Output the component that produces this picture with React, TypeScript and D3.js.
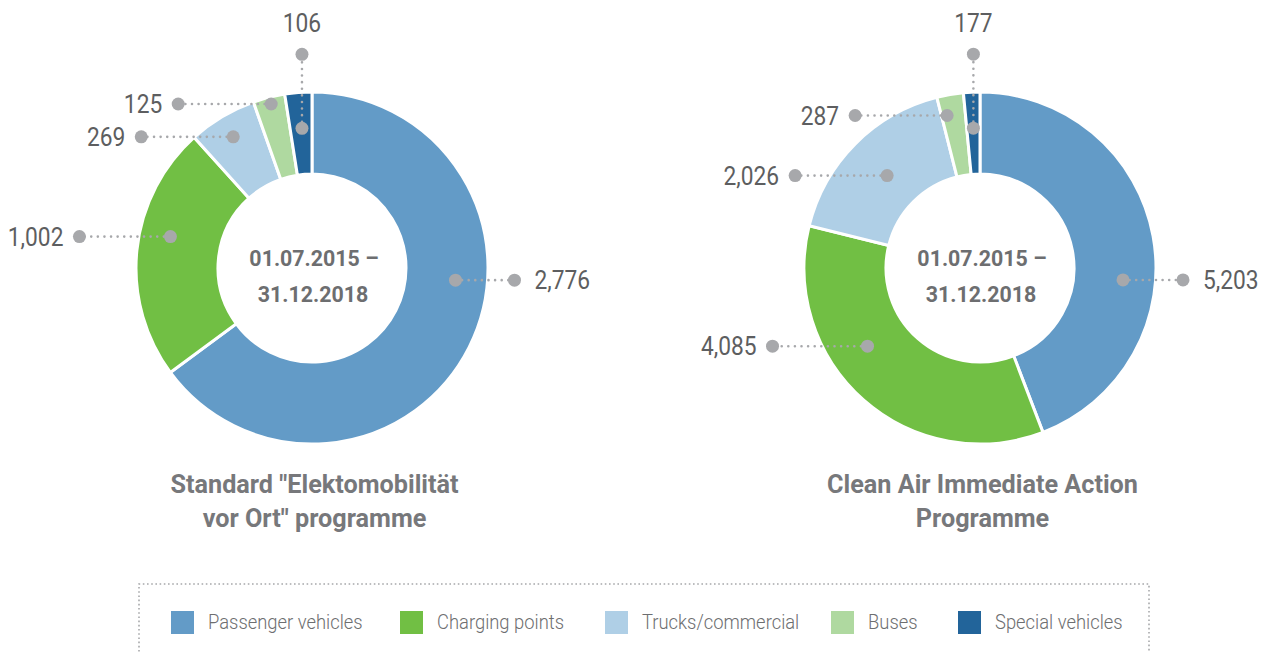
import React from 'react';
import * as d3 from 'd3';

// ---------- data ----------
const categories = ['Passenger vehicles', 'Charging points', 'Trucks/commercial', 'Buses', 'Special vehicles'];
const standardValues = [2776, 1002, 269, 125, 106];
const cleanAirValues = [5203, 4085, 2026, 287, 177];
const standardTitle = ['Standard "Elektomobilität', 'vor Ort" programme'];
const cleanAirTitle = ['Clean Air Immediate Action', 'Programme'];
const periodLines = ['01.07.2015 –', '31.12.2018'];

// ---------- style / layout ----------
const colors = ['#639bc7', '#71bf44', '#afcfe6', '#afd9a0', '#22649a'];
const FONT = 'Roboto, "Liberation Sans", sans-serif';
const SX = 0.91; // horizontal condensing
const CY = 268;
const R_OUT = 176;
const R_IN = 94;
const DOT = '#a7a8ab';

type LabelLayout = { frac: number; r: number; dir: 'left' | 'right' | 'up'; len: number };
const standardLabels: LabelLayout[] = [
  { frac: 0.406, r: 144, dir: 'right', len: 59 },
  { frac: 0.58, r: 145, dir: 'left', len: 91 },
  { frac: 0.49, r: 153, dir: 'left', len: 92 },
  { frac: 0.52, r: 169, dir: 'left', len: 93 },
  { frac: 0.54, r: 140, dir: 'up', len: 74 },
];
const cleanAirLabels: LabelLayout[] = [
  { frac: 0.596, r: 143.5, dir: 'right', len: 60 },
  { frac: 0.61, r: 137, dir: 'left', len: 95 },
  { frac: 0.5, r: 131, dir: 'left', len: 92 },
  { frac: 0.23, r: 156, dir: 'left', len: 92 },
  { frac: 0.5, r: 140, dir: 'up', len: 74 },
];
const legendX = [171, 400, 605, 831, 958];

const fmt = d3.format(',');

function CText(props: {
  x: number; y: number; children: React.ReactNode; size: number; weight?: number;
  fill: string; anchor?: string; sx?: number;
}) {
  const { x, y, children, size, weight = 400, fill, anchor = 'start', sx = SX } = props;
  return (
    <text
      transform={`translate(${x},${y}) scale(${sx},1)`}
      fontFamily={FONT}
      fontSize={size}
      fontWeight={weight}
      fill={fill}
      textAnchor={anchor}
    >
      {children}
    </text>
  );
}

function Donut(props: { cx: number; values: number[]; layout: LabelLayout[]; title: string[] }) {
  const { cx, values, layout, title } = props;
  const pie = d3.pie<number>().sort(null).value((d) => d).startAngle(0).endAngle(2 * Math.PI);
  const arcs = pie(values);
  const arc = d3.arc<d3.PieArcDatum<number>>().innerRadius(R_IN).outerRadius(R_OUT);

  return (
    <g>
      <g transform={`translate(${cx},${CY})`}>
        {arcs.map((a, i) => (
          <path key={i} d={arc(a) || ''} fill={colors[i]} stroke="#fff" strokeWidth={3} strokeLinejoin="miter" />
        ))}
      </g>
      {arcs.map((a, i) => {
        const L = layout[i];
        const ang = a.startAngle + (a.endAngle - a.startAngle) * L.frac;
        const ix = cx + L.r * Math.sin(ang);
        const iy = CY - L.r * Math.cos(ang);
        let ox = ix, oy = iy;
        if (L.dir === 'right') ox = ix + L.len;
        else if (L.dir === 'left') ox = ix - L.len;
        else oy = iy - L.len;
        const label = fmt(values[i]);
        let tx = ox, ty = oy + 9, anchor = 'start';
        if (L.dir === 'right') { tx = ox + 20; anchor = 'start'; }
        else if (L.dir === 'left') { tx = ox - 16; anchor = 'end'; }
        else { tx = ox; ty = oy - 22; anchor = 'middle'; }
        return (
          <g key={i}>
            <line x1={ix} y1={iy} x2={ox} y2={oy} stroke={DOT} strokeWidth={2.6}
              strokeDasharray="0 6.6" strokeLinecap="round" />
            <circle cx={ix} cy={iy} r={6.5} fill={DOT} />
            <circle cx={ox} cy={oy} r={6.5} fill={DOT} />
            <CText x={tx} y={ty} size={25} fill="#5d5e60" anchor={anchor}>{label}</CText>
          </g>
        );
      })}
      <CText x={cx + 2} y={266} size={23} weight={700} fill="#6d6e70" anchor="middle" sx={0.93}>{periodLines[0]}</CText>
      <CText x={cx + 1} y={302} size={23} weight={700} fill="#6d6e70" anchor="middle" sx={0.93}>{periodLines[1]}</CText>
      {title.map((t, i) => (
        <CText key={i} x={cx + 2.5} y={493 + i * 34} size={26} weight={700} fill="#77787b" anchor="middle" sx={0.97}>{t}</CText>
      ))}
    </g>
  );
}

export default function App() {
  return (
    <svg width={1264} height={652} style={{ position: 'absolute', left: 0, top: 0, background: '#fff' }}>
      <Donut cx={312} values={standardValues} layout={standardLabels} title={standardTitle} />
      <Donut cx={980} values={cleanAirValues} layout={cleanAirLabels} title={cleanAirTitle} />
      {/* legend frame */}
      <path d="M139,660 L139,584 L1149,584 L1149,660" fill="none" stroke="#a7a8ab" strokeWidth={1.6}
        strokeDasharray="1.6 2.6" />
      {categories.map((c, i) => (
        <g key={c}>
          <rect x={legendX[i]} y={611} width={23} height={23} fill={colors[i]} />
          <CText x={legendX[i] + 37} y={629} size={20} weight={300} fill="#6d6e70" sx={0.92}>{c}</CText>
        </g>
      ))}
    </svg>
  );
}
